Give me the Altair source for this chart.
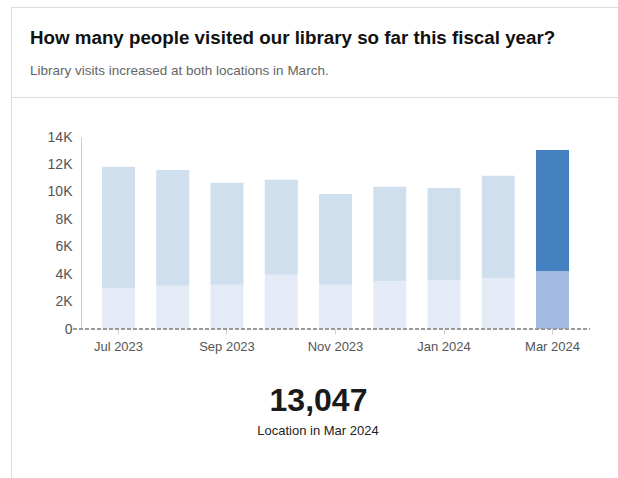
import altair as alt
import pandas as pd

# ---- data ----
months = ["Jul 2023", "Aug 2023", "Sep 2023", "Oct 2023", "Nov 2023",
          "Dec 2023", "Jan 2024", "Feb 2024", "Mar 2024"]
location_a = [2980, 3150, 3220, 3950, 3220, 3490, 3560, 3710, 4220]
location_b = [8850, 8450, 7440, 6930, 6630, 6880, 6730, 7460, 8827]
tick_months = ["Jul 2023", "Sep 2023", "Nov 2023", "Jan 2024", "Mar 2024"]
y_ticks = [0, 2000, 4000, 6000, 8000, 10000, 12000, 14000]
title_text = "How many people visited our library so far this fiscal year?"
subtitle_text = "Library visits increased at both locations in March."
caption_text = "Location in Mar 2024"

last = months[-1]
rows = []
for i, m in enumerate(months):
    hi = "hi" if m == last else "base"
    rows.append({"month": m, "loc": "A", "value": location_a[i], "ord": 0, "key": "A-" + hi})
    rows.append({"month": m, "loc": "B", "value": location_b[i], "ord": 1, "key": "B-" + hi})
df = pd.DataFrame(rows)

total_last = location_a[-1] + location_b[-1]
big = pd.DataFrame({"t": [f"{total_last:,}"]})

W, H = 509, 192
PL, PT = 81, 137

y_axis = alt.Axis(values=y_ticks, labelOverlap=False,
                  labelExpr="datum.value == 0 ? '0' : (datum.value/1000) + 'K'",
                  domain=True, domainColor="#cccccc", ticks=False,
                  grid=False, labelFont="Liberation Sans",
                  labelFontSize=14, labelColor="#555555", labelPadding=9)
y_scale = alt.Scale(domain=[0, 14000], nice=False)

bars = alt.Chart(df).mark_bar().encode(
    x=alt.X("month:N", sort=months, title=None,
            scale=alt.Scale(paddingInner=0.392, paddingOuter=0.387),
            axis=alt.Axis(values=tick_months, labelAngle=0, domain=False,
                          ticks=True, tickSize=5, tickColor="#cccccc",
                          labelFont="Liberation Sans", labelFontSize=13,
                          labelColor="#555555", labelPadding=6, grid=False)),
    y=alt.Y("value:Q", stack="zero", title=None, scale=y_scale, axis=y_axis),
    color=alt.Color("key:N", legend=None,
                    scale=alt.Scale(domain=["A-base", "B-base", "A-hi", "B-hi"],
                                    range=["#e4ebf7", "#cfdfee", "#a3bbe3", "#4581c1"])),
    order=alt.Order("ord:Q"),
)

baseline = alt.Chart(pd.DataFrame({"value": [0]})).mark_rule(
    color="#999999", strokeWidth=2, strokeDash=[4, 2]
).encode(y=alt.Y("value:Q", title=None, scale=y_scale, axis=y_axis),
         x=alt.value(-8), x2=alt.value(W))

# card borders
border_rows = pd.DataFrame({"k": [0]})
left_border = alt.Chart(border_rows).mark_rule(color="#dddddd", strokeWidth=1).encode(
    x=alt.value(11 - PL + 0.5), y=alt.value(7 - PT), y2=alt.value(478 - PT))
top_border = alt.Chart(border_rows).mark_rule(color="#dddddd", strokeWidth=1).encode(
    x=alt.value(11 - PL), x2=alt.value(618 - PL), y=alt.value(7 - PT + 0.5))
divider = alt.Chart(border_rows).mark_rule(color="#dddddd", strokeWidth=1).encode(
    x=alt.value(11 - PL), x2=alt.value(618 - PL), y=alt.value(97 - PT + 0.5))

title = alt.Chart(pd.DataFrame({"t": [title_text]})).mark_text(
    align="left", baseline="alphabetic", font="Liberation Sans", fontSize=18.75,
    fontWeight="bold", color="#111111"
).encode(text="t:N", x=alt.value(30 - PL), y=alt.value(44 - PT))

subtitle = alt.Chart(pd.DataFrame({"t": [subtitle_text]})).mark_text(
    align="left", baseline="alphabetic", font="Liberation Sans", fontSize=13.5,
    color="#666666"
).encode(text="t:N", x=alt.value(30 - PL), y=alt.value(75 - PT))

big_num = alt.Chart(big).mark_text(
    align="center", baseline="alphabetic", font="Liberation Sans", fontSize=32,
    fontWeight="bold", color="#1a1a1a"
).encode(text="t:N", x=alt.value(318.5 - PL), y=alt.value(411 - PT))

caption = alt.Chart(pd.DataFrame({"t": [caption_text]})).mark_text(
    align="center", baseline="alphabetic", font="Liberation Sans", fontSize=13,
    color="#222222"
).encode(text="t:N", x=alt.value(318 - PL), y=alt.value(435 - PT))

chart = alt.layer(
    left_border, top_border, divider, bars, baseline, title, subtitle, big_num, caption
).properties(
    width=W, height=H,
    autosize=alt.AutoSizeParams(type="none"),
    padding={"left": PL, "top": PT, "right": 618 - PL - W, "bottom": 478 - PT - H},
    background="white",
).configure_view(stroke=None)

chart.save("out.html", embed_options={"renderer": "svg", "actions": False})
